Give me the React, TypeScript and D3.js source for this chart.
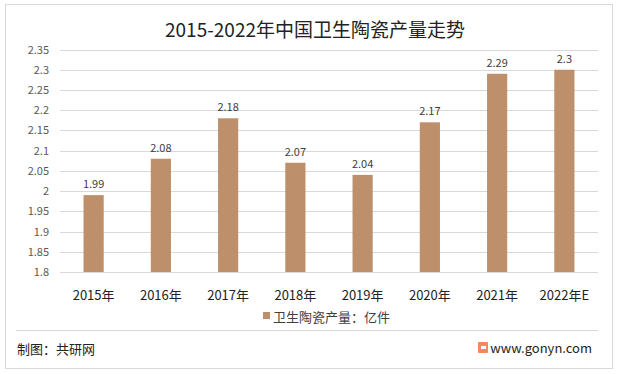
import { useRef, useEffect } from 'react';
import * as d3 from 'd3';

const years = ['2015年', '2016年', '2017年', '2018年', '2019年', '2020年', '2021年', '2022年E'];
const output = [1.99, 2.08, 2.18, 2.07, 2.04, 2.17, 2.29, 2.3];
const yTicks = [1.8, 1.85, 1.9, 1.95, 2, 2.05, 2.1, 2.15, 2.2, 2.25, 2.3, 2.35];
const seriesName = '卫生陶瓷产量：亿件';

export default function App() {
  const svgRef = useRef<SVGSVGElement>(null);

  useEffect(() => {
    const svg = d3.select(svgRef.current);
    svg.selectAll('*').remove();

    const width = 618;
    const font = '"Microsoft YaHei", "Noto Sans CJK SC", sans-serif';
    const margin = { left: 60, right: 20 };

    svg.append('rect')
      .attr('x', 5.5).attr('y', 4.5)
      .attr('width', 607).attr('height', 364)
      .attr('fill', '#fff').attr('stroke', '#d9d9d9');

    svg.append('text')
      .attr('x', 315).attr('y', 37)
      .attr('text-anchor', 'middle')
      .attr('font-family', font).attr('font-size', 19)
      .attr('fill', '#222')
      .text('2015-2022年中国卫生陶瓷产量走势');

    const x = d3.scaleBand<string>()
      .domain(years)
      .range([margin.left, width - margin.right])
      .paddingInner(0.7)
      .paddingOuter(0.35);

    const y = d3.scaleLinear()
      .domain([1.8, 2.35])
      .range([272, 49.5]);

    const grid = svg.append('g');
    grid.selectAll('line')
      .data(yTicks)
      .join('line')
      .attr('x1', margin.left).attr('x2', width - margin.right)
      .attr('y1', d => Math.round(y(d)) + 0.5).attr('y2', d => Math.round(y(d)) + 0.5)
      .attr('stroke', '#d9d9d9');

    grid.selectAll('text')
      .data(yTicks)
      .join('text')
      .attr('x', 49).attr('y', d => y(d) + 4)
      .attr('text-anchor', 'end')
      .attr('font-family', font).attr('font-size', 11)
      .attr('fill', '#595959')
      .text(d => String(d));

    svg.selectAll('.bar')
      .data(output)
      .join('rect')
      .attr('class', 'bar')
      .attr('x', (_, i) => x(years[i])!)
      .attr('y', d => y(d))
      .attr('width', x.bandwidth())
      .attr('height', d => y(1.8) - y(d))
      .attr('fill', '#bd8f6b');

    svg.selectAll('.val')
      .data(output)
      .join('text')
      .attr('class', 'val')
      .attr('x', (_, i) => x(years[i])! + x.bandwidth() / 2)
      .attr('y', d => y(d) - 7)
      .attr('text-anchor', 'middle')
      .attr('font-family', font).attr('font-size', 11)
      .attr('fill', '#404040')
      .text(d => String(d));

    svg.selectAll('.cat')
      .data(years)
      .join('text')
      .attr('class', 'cat')
      .attr('x', d => x(d)! + x.bandwidth() / 2)
      .attr('y', 300)
      .attr('text-anchor', 'middle')
      .attr('font-family', font).attr('font-size', 13)
      .attr('fill', '#222')
      .text(d => d);

    const legend = svg.append('g').attr('transform', 'translate(263,317)');
    legend.append('rect')
      .attr('x', 0).attr('y', -5)
      .attr('width', 7).attr('height', 7)
      .attr('fill', '#bd8f6b');
    legend.append('text')
      .attr('x', 10).attr('y', 1)
      .attr('dominant-baseline', 'middle')
      .attr('font-family', font).attr('font-size', 13)
      .attr('fill', '#404040')
      .text(seriesName);

    svg.append('line')
      .attr('x1', 16).attr('x2', 598)
      .attr('y1', 330.5).attr('y2', 330.5)
      .attr('stroke', '#d9d9d9');

    svg.append('text')
      .attr('x', 17).attr('y', 354)
      .attr('font-family', font).attr('font-size', 13)
      .attr('fill', '#222')
      .text('制图：共研网');

    const logo = svg.append('g').attr('transform', 'translate(478,342)');
    logo.append('rect')
      .attr('width', 10).attr('height', 11).attr('rx', 1)
      .attr('fill', '#f08a5d');
    logo.append('rect')
      .attr('x', 3).attr('y', 4).attr('width', 5).attr('height', 3)
      .attr('fill', '#fff');

    svg.append('text')
      .attr('x', 592).attr('y', 353)
      .attr('text-anchor', 'end')
      .attr('font-family', font).attr('font-size', 13)
      .attr('fill', '#222')
      .text('www.gonyn.com');
  }, []);

  return (
    <svg ref={svgRef} width={618} height={374}
      style={{ position: 'absolute', left: 0, top: 0, display: 'block' }} />
  );
}
